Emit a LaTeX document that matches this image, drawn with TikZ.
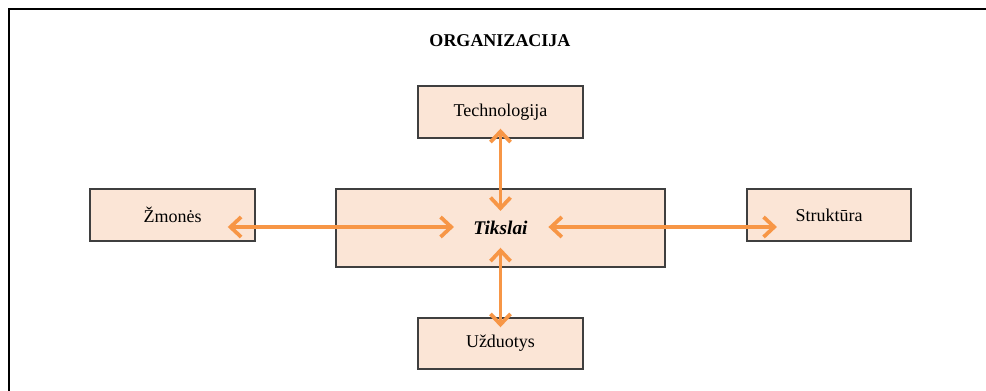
\documentclass[tikz,border=0pt]{standalone}
\usepackage{fontspec}
\setmainfont{Liberation Serif}
\usetikzlibrary{arrows.meta}
\definecolor{boxfill}{HTML}{FBE5D6}
\definecolor{boxline}{HTML}{3F3F3F}
\definecolor{arrcol}{HTML}{F79646}
\tikzset{
  box/.style={draw=boxline, line width=1.1pt, fill=boxfill, inner sep=0pt,
    font=\fontsize{13.5}{16}\selectfont},
  arr/.style={draw=arrcol, line width=2.8pt,
    {Straight Barb[length=8pt,width=15pt]}-{Straight Barb[length=8pt,width=15pt]}},
  frame/.style={draw=black, line width=1.5pt}
}
\begin{document}
\begin{tikzpicture}[x=0.75pt,y=-0.75pt]
\useasboundingbox (0,0) rectangle (986,391);
\draw[frame] (8.5,391) -- (8.5,9.5) -- (986,9.5);
\node (title) at (500,41) {\fontsize{13.5}{16}\selectfont\bfseries ORGANIZACIJA};
\node[box, minimum width=123.75pt, minimum height=39pt] (tech) at (500.5,112) {Technologija};
\node[box, minimum width=123.75pt, minimum height=39pt] (zmo) at (172.5,215) {Žmonės};
\node[box, minimum width=246.75pt, minimum height=58.5pt] (tik) at (500.5,228) {\fontsize{14.5}{17}\selectfont\bfseries\itshape Tikslai};
\node[box, minimum width=123pt, minimum height=39pt] (str) at (829,215) {Struktūra};
\node[box, minimum width=123.75pt, minimum height=38.25pt] (uzd) at (500.5,343.5) {Užduotys};
\draw[arr, shorten <=-21pt, shorten >=-89pt] (zmo.east |- 0,227) -- (tik.west |- 0,227);
\draw[arr, shorten <=-88pt, shorten >=-23pt] (tik.east |- 0,227) -- (str.west |- 0,227);
\draw[arr, shorten <=-7.5pt, shorten >=-17pt] (tech.south) -- (tik.north);
\draw[arr, shorten <=-15pt, shorten >=-7.5pt] (tik.south) -- (uzd.north);
\end{tikzpicture}
\end{document}
